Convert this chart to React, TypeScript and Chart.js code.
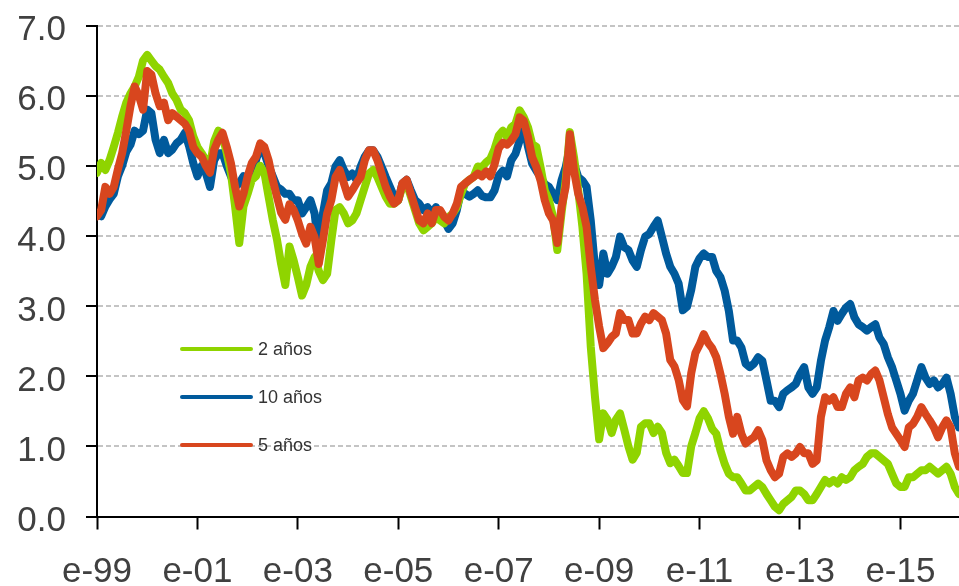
import { useEffect, useRef } from "react";
import { Chart, registerables } from "chart.js";

Chart.register(...registerables);

// Series names / colours (legend order)
const seriesNames = ["2 años", "10 años", "5 años"];
const seriesColors = ["#8fd400", "#005a9c", "#d8461e"];

// X axis: month index from e-99 (Jan 1999); tick labels every two years
const xMax = 206;
const tickMonths = [0, 24, 48, 72, 96, 120, 144, 168, 192];
const tickLabels = ["e-99", "e-01", "e-03", "e-05", "e-07", "e-09", "e-11", "e-13", "e-15"];
const yTicks = [0, 1, 2, 3, 4, 5, 6, 7];

// Monthly values (Jan 1999 .. Mar 2016)
const yield2 = [
  4.9, 5.04, 4.94, 5.08, 5.27, 5.47, 5.7, 5.9, 6.03, 6.13, 6.27, 6.5,
  6.58, 6.5, 6.42, 6.37, 6.27, 6.18, 6.03, 5.94, 5.8, 5.75, 5.65, 5.42,
  5.27, 5.18, 5.08, 5.0, 5.35, 5.5, 5.42, 5.18, 4.9, 4.42, 3.9, 4.42,
  4.6, 4.8, 4.85, 5.0, 4.9, 4.56, 4.23, 3.95, 3.6, 3.3, 3.85, 3.65,
  3.41, 3.15, 3.3, 3.56, 3.7, 3.5, 3.37, 3.46, 3.94, 4.37, 4.41, 4.32,
  4.18, 4.22, 4.32, 4.51, 4.7, 4.89, 4.94, 4.84, 4.7, 4.56, 4.46, 4.46,
  4.51, 4.7, 4.75, 4.56, 4.37, 4.18, 4.08, 4.13, 4.18, 4.27, 4.22, 4.18,
  4.27, 4.32, 4.41, 4.6, 4.75, 4.8, 4.84, 4.99, 4.98, 5.05, 5.1, 5.24,
  5.43, 5.5, 5.41, 5.55, 5.6, 5.79, 5.69, 5.55, 5.31, 5.27, 4.98, 4.65,
  4.51, 4.27, 3.8, 4.32, 4.79, 5.48, 5.12, 4.65, 4.13, 3.46, 2.42, 1.71,
  1.1, 1.47, 1.38, 1.19, 1.38, 1.47, 1.24, 1.0, 0.81, 0.91, 1.28, 1.33,
  1.33, 1.19, 1.28, 1.19, 0.91, 0.76, 0.81, 0.72, 0.62, 0.62, 1.0, 1.19,
  1.4, 1.5, 1.4, 1.25, 1.18, 0.94, 0.75, 0.61, 0.56, 0.56, 0.47, 0.37,
  0.37, 0.42, 0.47, 0.42, 0.32, 0.23, 0.14, 0.09, 0.18, 0.23, 0.28, 0.37,
  0.37, 0.32, 0.23, 0.23, 0.32, 0.42, 0.52, 0.47, 0.52, 0.47, 0.56, 0.52,
  0.56, 0.66, 0.71, 0.75, 0.85, 0.9, 0.9, 0.85, 0.8, 0.75, 0.61, 0.47,
  0.42, 0.42, 0.56, 0.56, 0.61, 0.66, 0.66, 0.71, 0.66, 0.61, 0.66, 0.71,
  0.61, 0.42, 0.32,
];

const yield10 = [
  4.3, 4.28, 4.42, 4.52, 4.6, 4.85, 5.0, 5.2, 5.3, 5.5, 5.45, 5.5,
  5.8, 5.75, 5.37, 5.18, 5.37, 5.18, 5.23, 5.32, 5.37, 5.47, 5.28, 5.04,
  4.85, 5.0, 4.9, 4.7, 5.08, 5.18, 5.18, 5.0, 4.85, 4.7, 4.75, 4.85,
  4.8, 4.85, 5.08, 5.27, 5.18, 5.0, 4.85, 4.7, 4.66, 4.6, 4.6, 4.51,
  4.51, 4.32, 4.41, 4.51, 4.32, 3.8, 4.32, 4.65, 4.75, 4.99, 5.08, 4.94,
  4.84, 4.89, 4.8, 4.99, 5.13, 5.22, 5.22, 5.13, 4.99, 4.84, 4.7, 4.56,
  4.51, 4.75, 4.8, 4.65, 4.51, 4.46, 4.37, 4.41, 4.32, 4.41, 4.32, 4.22,
  4.1, 4.18, 4.37, 4.65, 4.6, 4.56, 4.6, 4.65, 4.57, 4.55, 4.55, 4.65,
  4.86, 4.93, 4.85, 5.08, 5.17, 5.36, 5.6, 5.27, 5.03, 4.93, 4.84, 4.74,
  4.7, 4.6, 4.51, 4.79, 4.98, 5.27, 5.03, 4.84, 4.79, 4.7, 4.22, 3.56,
  3.3, 3.75, 3.46, 3.56, 3.7, 3.99, 3.84, 3.8, 3.65, 3.56, 3.8, 3.99,
  4.03, 4.13, 4.22, 3.99, 3.75, 3.56, 3.46, 3.32, 2.94, 2.99, 3.23, 3.56,
  3.68, 3.75, 3.7, 3.7, 3.5, 3.41, 3.22, 2.93, 2.51, 2.51, 2.41, 2.18,
  2.13, 2.18, 2.27, 2.22, 1.94, 1.65, 1.65, 1.56, 1.75, 1.8, 1.84, 1.89,
  2.03, 2.13, 1.84, 1.75, 1.84, 2.22, 2.51, 2.7, 2.93, 2.79, 2.89, 2.98,
  3.03, 2.84, 2.74, 2.7, 2.65, 2.7, 2.74, 2.55, 2.46, 2.27, 2.13, 1.94,
  1.75, 1.51, 1.65, 1.75, 1.94, 2.13, 1.98, 1.89, 1.94, 1.84, 1.89, 1.98,
  1.75, 1.42, 1.27,
];

const yield5 = [
  4.28, 4.37, 4.7, 4.6, 4.7, 4.95, 5.18, 5.5, 5.85, 6.13, 6.0, 5.8,
  6.35, 6.3, 6.03, 5.85, 5.9, 5.65, 5.75, 5.7, 5.65, 5.6, 5.5, 5.27,
  5.18, 5.13, 5.0, 4.9, 5.23, 5.37, 5.47, 5.27, 5.04, 4.7, 4.42, 4.6,
  4.85, 5.04, 5.13, 5.32, 5.27, 5.08, 4.8, 4.56, 4.33, 4.23, 4.45, 4.37,
  4.22, 4.03, 3.89, 4.13, 3.98, 3.6, 3.94, 4.32, 4.51, 4.84, 4.94, 4.75,
  4.56, 4.65, 4.75, 4.84, 5.08, 5.22, 5.22, 5.08, 4.89, 4.7, 4.56, 4.46,
  4.51, 4.75, 4.8, 4.6, 4.41, 4.22, 4.18, 4.32, 4.18, 4.37, 4.37, 4.27,
  4.22, 4.32, 4.46, 4.7, 4.75, 4.8, 4.84, 4.89, 4.85, 4.92, 4.85, 5.02,
  5.25, 5.33, 5.3, 5.36, 5.45, 5.69, 5.64, 5.41, 5.12, 4.98, 4.79, 4.51,
  4.32, 4.22, 3.9, 4.41, 4.7, 5.45, 4.93, 4.6, 4.41, 4.13, 3.56, 3.09,
  2.71, 2.4, 2.47, 2.56, 2.61, 2.9, 2.8, 2.8, 2.61, 2.61, 2.75, 2.85,
  2.8, 2.9, 2.85, 2.8, 2.61, 2.23, 2.14, 1.95, 1.66, 1.57, 2.04, 2.33,
  2.45, 2.6, 2.48, 2.4, 2.27, 2.03, 1.75, 1.42, 1.18, 1.42, 1.18, 1.04,
  1.09, 1.13, 1.23, 1.09, 0.8, 0.66, 0.56, 0.61, 0.85, 0.9, 0.85, 0.9,
  0.99, 0.9, 0.9, 0.75, 0.8, 1.42, 1.7, 1.65, 1.7, 1.56, 1.56, 1.75,
  1.84, 1.7, 1.94, 1.98, 1.94, 2.03, 2.08, 1.94, 1.7, 1.46, 1.27, 1.18,
  1.09, 0.99, 1.27, 1.32, 1.42, 1.56, 1.46, 1.37, 1.27, 1.13, 1.27, 1.37,
  1.27, 0.9, 0.71,
];

const seriesValues = [yield2, yield10, yield5];
// drawing order: lower = on top
const seriesOrder = [1, 2, 0];

const FONT = "'Liberation Sans', Arial, sans-serif";

export default function App() {
  const canvasRef = useRef<HTMLCanvasElement | null>(null);

  useEffect(() => {
    document.body.style.margin = "0";
    const canvas = canvasRef.current;
    if (!canvas) return;
    const chart = new Chart(canvas, {
      type: "line",
      data: {
        datasets: seriesNames.map((name, i) => ({
          label: name,
          data: seriesValues[i].map((v, m) => ({ x: m, y: v })),
          borderColor: seriesColors[i],
          backgroundColor: seriesColors[i],
          borderWidth: 8,
          pointRadius: 0,
          tension: 0,
          borderJoinStyle: "round" as const,
          borderCapStyle: "round" as const,
          order: seriesOrder[i],
          fill: false,
        })),
      },
      options: {
        animation: false,
        responsive: false,
        layout: { padding: { top: 25.5, right: 0, left: 0, bottom: 0 } },
        plugins: {
          legend: { display: false },
          tooltip: { enabled: false },
        },
        scales: {
          x: {
            type: "linear",
            min: 0,
            max: xMax,
            afterBuildTicks: (s: any) => {
              s.ticks = tickMonths.map((v) => ({ value: v }));
            },
            afterFit: (s: any) => {
              s.height = 69.5;
              s.paddingLeft = 0;
              s.paddingRight = 0;
            },
            ticks: {
              autoSkip: false,
              maxRotation: 0,
              includeBounds: false,
              padding: 22,
              color: "#404040",
              font: { family: FONT, size: 35 },
              callback: (v: any) => {
                const k = tickMonths.indexOf(Number(v));
                return k >= 0 ? tickLabels[k] : "";
              },
            },
            grid: {
              drawOnChartArea: false,
              drawTicks: true,
              tickLength: 13,
              tickColor: "#000",
              tickWidth: 2,
            },
            border: { display: true, color: "#000", width: 2 },
          },
          y: {
            type: "linear",
            min: 0,
            max: 7,
            afterBuildTicks: (s: any) => {
              s.ticks = yTicks.map((v) => ({ value: v }));
            },
            afterFit: (s: any) => {
              s.width = 97;
              s.paddingTop = 0;
              s.paddingBottom = 0;
            },
            ticks: {
              padding: 20,
              labelOffset: 5,
              color: "#404040",
              font: { family: FONT, size: 35 },
              callback: (v: any) => Number(v).toFixed(1),
            },
            grid: {
              color: (ctx: any) =>
                ctx.tick && ctx.tick.value === 0 ? "rgba(0,0,0,0)" : "#c4c4c4",
              lineWidth: 2,
              tickLength: 11,
              tickColor: "#000",
              tickWidth: 2,
              tickBorderDash: [],
            },
            border: { display: true, color: "#000", width: 2, dash: [5, 3] },
          },
        },
      },
    });
    return () => chart.destroy();
  }, []);

  const legendTops = [349, 397, 445];

  return (
    <div style={{ position: "absolute", left: 0, top: 0, width: 959, height: 586 }}>
      <canvas
        ref={canvasRef}
        width={959}
        height={586}
        style={{ position: "absolute", left: 0, top: 0, display: "block" }}
      />
      {seriesNames.map((name, i) => (
        <div
          key={name}
          style={{
            position: "absolute",
            left: 180,
            top: legendTops[i] - 12,
            height: 24,
            display: "flex",
            alignItems: "center",
            fontFamily: FONT,
            fontSize: 18,
            color: "#333",
            whiteSpace: "nowrap",
          }}
        >
          <span
            style={{
              display: "inline-block",
              width: 73,
              height: 4,
              borderRadius: 2,
              background: seriesColors[i],
              marginRight: 5,
            }}
          />
          <span>{name}</span>
        </div>
      ))}
    </div>
  );
}
